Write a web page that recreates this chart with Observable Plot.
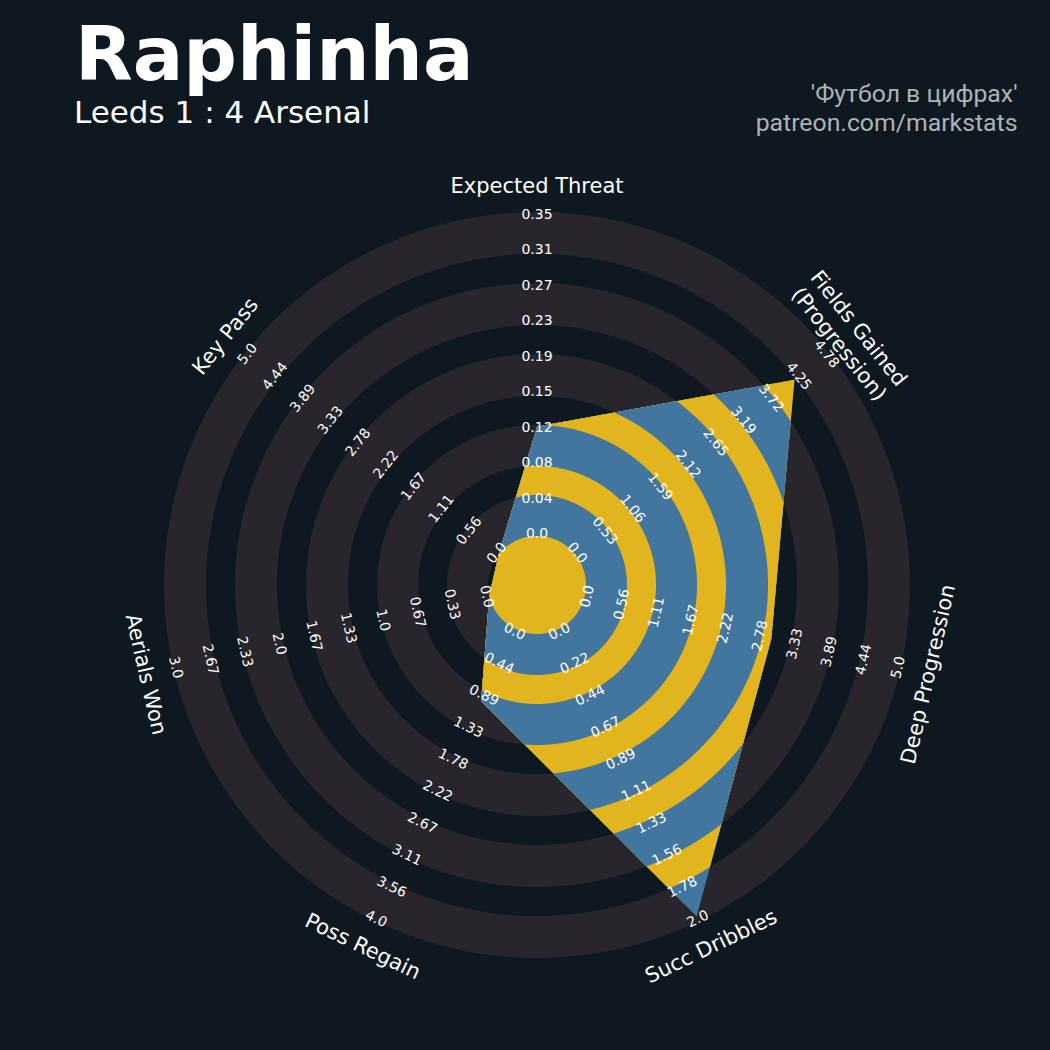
<!DOCTYPE html>
<html><head><meta charset="utf-8">
<script src="https://cdn.jsdelivr.net/npm/d3@7"></script>
<script src="https://cdn.jsdelivr.net/npm/@observablehq/plot@0.6"></script>
<style>
html,body{margin:0;padding:0;background:#0e1820;}
#wrap{position:relative;width:1050px;height:1050px;background:#0e1820;overflow:hidden}
#header{position:relative;width:1050px;height:150px}
.t{position:absolute;white-space:nowrap;line-height:1}
#title{left:75px;top:16.5px;font-family:"DejaVu Sans";font-weight:bold;font-size:75px;color:#ffffff}
#sub{left:74px;top:97px;font-family:"DejaVu Sans";font-size:31px;color:#ffffff}
#r1,#r2{right:32.5px;font-family:Roboto;font-size:24.8px;color:#aeb2b6;text-align:right}
#r1{top:82px}
#r2{top:111px}
#chart svg{display:block}
</style></head>
<body>
<div id="wrap">
  <div id="header">
    <div class="t" id="title">Raphinha</div>
    <div class="t" id="sub">Leeds 1 : 4 Arsenal</div>
    <div class="t" id="r1">'Футбол в цифрах'</div>
    <div class="t" id="r2">patreon.com/markstats</div>
  </div>
  <div id="chart"></div>
</div>
<script>
// ---- data ----
const params = ["Expected Threat", "Fields Gained\n(Progression)", "Deep Progression", "Succ Dribbles", "Poss Regain", "Aerials Won", "Key Pass"];
const values = [0.12, 4.2, 3.0, 2.0, 1.0, 0, 0];
const minRange = [0, 0, 0, 0, 0, 0, 0];
const maxRange = [0.35, 4.78, 5.0, 2.0, 4.0, 3.0, 5.0];
const labelsXT = ["0.0","0.04","0.08","0.12","0.15","0.19","0.23","0.27","0.31","0.35"];
const labelsFields = ["0.0","0.53","1.06","1.59","2.12","2.65","3.19","3.72","4.25","4.78"];
const labelsDeep = ["0.0","0.56","1.11","1.67","2.22","2.78","3.33","3.89","4.44","5.0"];
const labelsDribbles = ["0.0","0.22","0.44","0.67","0.89","1.11","1.33","1.56","1.78","2.0"];
const labelsRegain = ["0.0","0.44","0.89","1.33","1.78","2.22","2.67","3.11","3.56","4.0"];
const labelsAerials = ["0.0","0.33","0.67","1.0","1.33","1.67","2.0","2.33","2.67","3.0"];
const labelsKeyPass = ["0.0","0.56","1.11","1.67","2.22","2.78","3.33","3.89","4.44","5.0"];
const rangeLabels = [labelsXT, labelsFields, labelsDeep, labelsDribbles, labelsRegain, labelsAerials, labelsKeyPass];

// ---- style / geometry constants (pixels) ----
const BG = "#0e1820", RING = "#28252c", BLUE = "#42769f", YELLOW = "#e2b51e";
const R0 = 49, R1 = 368;           // value min / max radius
const ringEdges = [373, 331, 302, 260, 231, 189, 160, 119, 90, 49];
const n = params.length;
const toRad = Math.PI / 180;
const angleOf = k => 90 - k * 360 / n;   // math degrees
const radiusOf = (v, k) => R0 + (v - minRange[k]) / (maxRange[k] - minRange[k]) * (R1 - R0);
const rotOf = k => { let r = 90 - angleOf(k); r = ((r % 360) + 360) % 360; if (r > 180) r -= 360; if (r > 90) r -= 180; if (r < -90) r += 180; return r; };

// polygon vertices
const verts = values.map((v, k) => { const a = angleOf(k) * toRad, r = radiusOf(v, k); return [r * Math.cos(a), r * Math.sin(a)]; });
const cross = (a, b) => a[0] * b[1] - a[1] * b[0];
function polyR(alpha) { // alpha: clockwise degrees from top
  const step = 360 / n;
  let k = Math.floor(alpha / step) % n;
  const P = verts[k], Q = verts[(k + 1) % n];
  const th = (90 - alpha) * toRad;
  const d = [Math.cos(th), Math.sin(th)];
  const e = [Q[0] - P[0], Q[1] - P[1]];
  return cross(P, e) / cross(d, e);
}
const N = 2520;
function clippedPoly(rho, layer) {
  const pts = [];
  for (let j = 0; j < N; j++) {
    const alpha = j * 360 / N;
    const r = Math.min(polyR(alpha), rho);
    const th = (90 - alpha) * toRad;
    pts.push({x: r * Math.cos(th), y: r * Math.sin(th), layer});
  }
  return pts;
}
function circle(r, layer) {
  const pts = [];
  for (let j = 0; j < 720; j++) { const th = j / 720 * 2 * Math.PI; pts.push({x: r * Math.cos(th), y: r * Math.sin(th), layer}); }
  return pts;
}

const marks = [];
// background rings (painter's order)
ringEdges.forEach((r, i) => {
  marks.push(Plot.line(circle(r, i), {x: "x", y: "y", fill: i % 2 === 0 ? RING : BG, stroke: "none", curve: "linear-closed"}));
});
// radar polygon bands
marks.push(Plot.line(clippedPoly(Infinity, 0), {x: "x", y: "y", fill: BLUE, stroke: "none", curve: "linear-closed"}));
ringEdges.slice(1).forEach((rho, i) => {
  marks.push(Plot.line(clippedPoly(rho, i + 1), {x: "x", y: "y", fill: i % 2 === 0 ? YELLOW : BLUE, stroke: "none", curve: "linear-closed"}));
});
// range labels
const rl = [];
rangeLabels.forEach((labs, k) => {
  const a = angleOf(k) * toRad;
  labs.forEach((t, i) => {
    const r = R0 + i / (labs.length - 1) * (R1 - R0) + 2.5;
    rl.push({x: r * Math.cos(a), y: r * Math.sin(a), text: t, rot: rotOf(k)});
  });
});
marks.push(Plot.text(rl, {x: "x", y: "y", text: "text", rotate: "rot", fontSize: 14, fontFamily: "DejaVu Sans", fill: "#ffffff"}));
// param labels
const pl = params.map((p, k) => { const a = angleOf(k) * toRad; return {x: 400 * Math.cos(a), y: 400 * Math.sin(a), text: p, rot: rotOf(k)}; });
marks.push(Plot.text(pl, {x: "x", y: "y", text: "text", rotate: "rot", fontSize: 21, lineHeight: 1.2, fontFamily: "DejaVu Sans", fill: "#ffffff"}));

const chart = Plot.plot({
  width: 1050, height: 900,
  marginTop: 0, marginRight: 0, marginBottom: 0, marginLeft: 0,
  x: {domain: [-536.5, 513.5], axis: null},
  y: {domain: [-465.5, 434.5], axis: null},
  style: {background: BG, overflow: "visible"},
  marks
});
document.getElementById("chart").appendChild(chart);
</script>
</body></html>
